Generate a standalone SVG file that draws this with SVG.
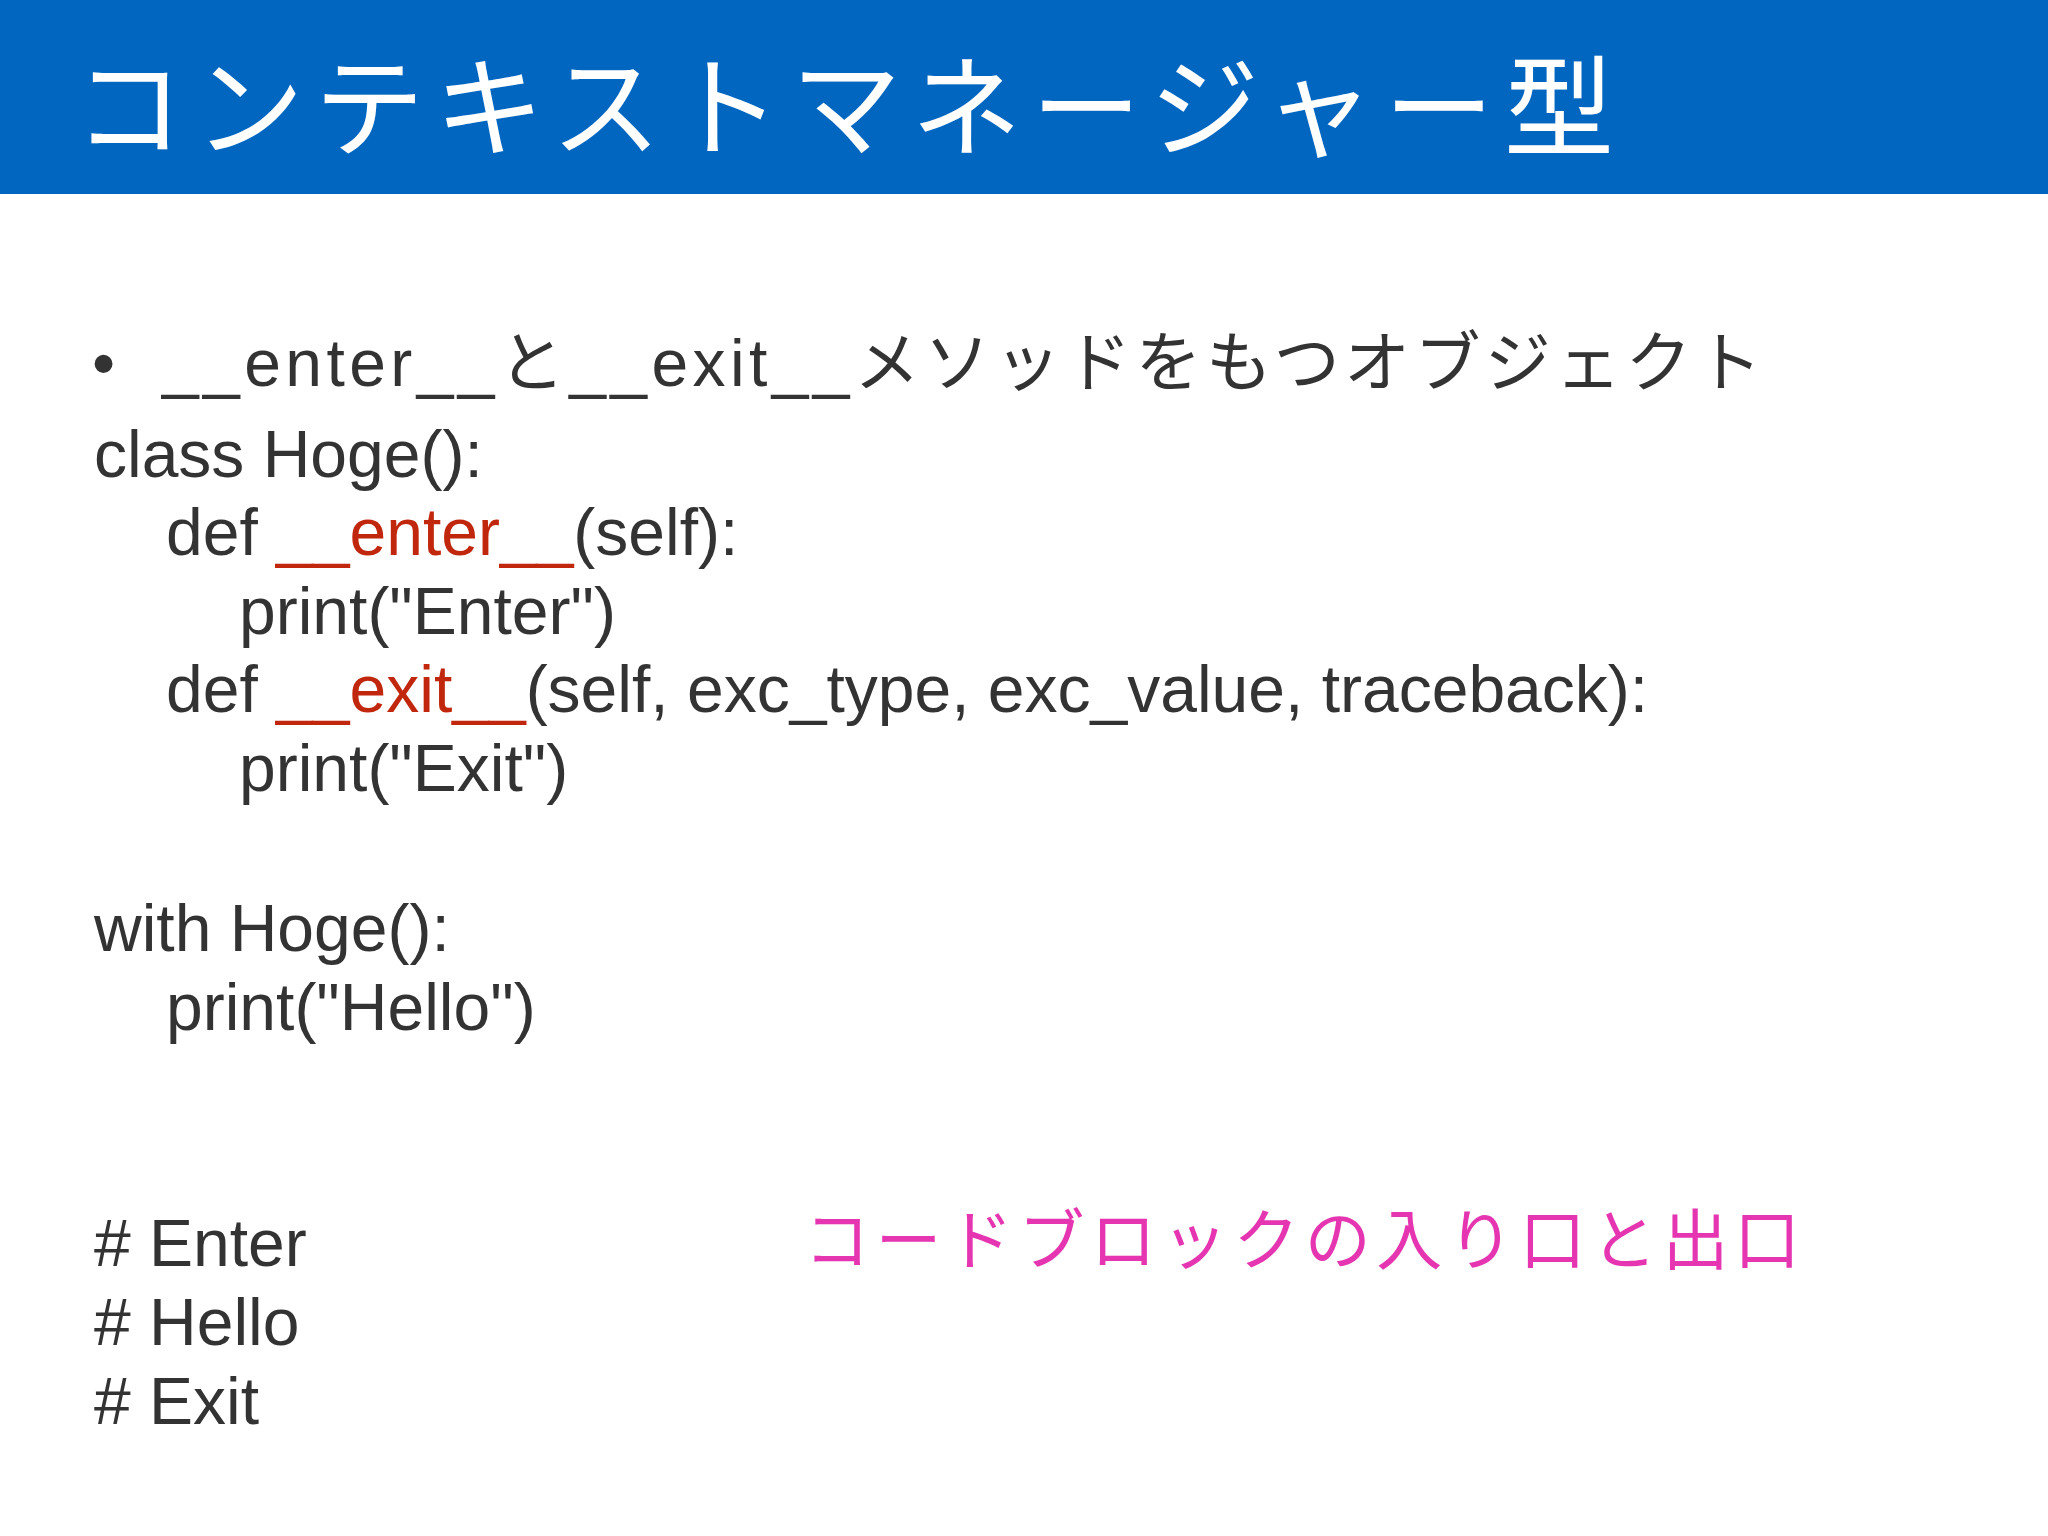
<svg xmlns="http://www.w3.org/2000/svg" width="2048" height="1536" viewBox="0 0 2048 1536">
<style>
.t{font-family:"Liberation Sans","Noto Sans CJK JP",sans-serif;font-size:66px;fill:#333333}
.r{fill:#C0270C}
.p{font-family:"Noto Sans CJK JP",sans-serif;font-size:66px;fill:#E535B0}
</style>
<rect x="0" y="0" width="2048" height="1536" fill="#ffffff"/>
<g id="header">
<rect x="0" y="0" width="2048" height="194" fill="#0066C0"/>
<text x="74" y="148" font-family="Noto Sans CJK JP, sans-serif" font-size="110" fill="#ffffff" textLength="1540" lengthAdjust="spacing">コンテキストマネージャー型</text>
</g>
<g id="code">
<text class="t" x="92" y="386">•</text>
<text class="t" x="162" y="386" textLength="1600" lengthAdjust="spacing">__enter__と__exit__メソッドをもつオブジェクト</text>
<text class="t" x="94" y="477">class Hoge():</text>
<text class="t" x="166" y="555">def <tspan class="r">__enter__</tspan>(self):</text>
<text class="t" x="239" y="634">print("Enter")</text>
<text class="t" x="166" y="712">def <tspan class="r">__exit__</tspan>(self, exc_type, exc_value, traceback):</text>
<text class="t" x="239" y="791">print("Exit")</text>
<text class="t" x="94" y="951">with Hoge():</text>
<text class="t" x="166" y="1030">print("Hello")</text>
<text class="t" x="94" y="1266">#  Enter</text>
<text class="t" x="94" y="1345">#  Hello</text>
<text class="t" x="94" y="1424">#  Exit</text>
</g>
<g id="note">
<text class="p" x="804" y="1264" textLength="996" lengthAdjust="spacing">コードブロックの入り口と出口</text>
</g>
</svg>
